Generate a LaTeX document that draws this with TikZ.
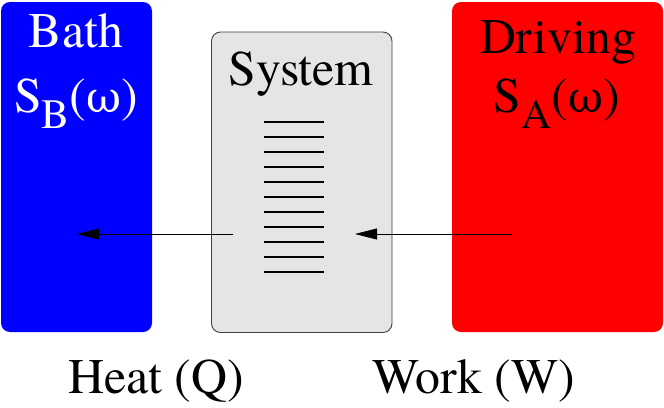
\documentclass[tikz,border=0pt]{standalone}
\usepackage{fontspec}
\IfFontExistsTF{TeX Gyre Termes}{\newfontfamily\tms{TeX Gyre Termes}}{\newfontfamily\tms{Liberation Serif}}
\newfontfamily\grk{DejaVu Serif}
\usetikzlibrary{arrows.meta}
\definecolor{bathblue}{RGB}{0,0,255}
\definecolor{driverred}{RGB}{255,0,0}
\definecolor{sysgray}{RGB}{229,229,229}
\tikzset{
  sysbox/.style={rounded corners=9bp, draw=black!75, line width=0.9bp, fill=sysgray, inner sep=0pt},
  big/.style={font=\tms\fontsize{50}{60}\selectfont, inner sep=0pt, anchor=base},
  level/.style={line width=1.8bp},
  flow/.style={line width=0.8bp, -{Triangle[length=22bp,width=11bp]}}
}
\newcommand{\specS}[1]{S\raisebox{-16bp}{\fontsize{42}{50}\selectfont #1}({\grk\fontsize{43}{50}\selectfont ω})}
\begin{document}
\begin{tikzpicture}[x=1bp,y=-1bp]
\useasboundingbox (0,0) rectangle (664,407);
\fill[bathblue, rounded corners=9bp] (1,2) rectangle (152,332);
\fill[driverred, rounded corners=9bp] (452,2) rectangle (663,332);
\draw[sysbox] (211.5,32) rectangle (392,332.5);
\node[big, text=white] (bathlbl) at (76,47) {Bath};
\node[big, text=white] (bathspec) at (76,112) {\specS{B}};
\node[big] (drivlbl) at (558,53) {Driving};
\node[big] (drivspec) at (557,112) {\specS{A}};
\node[big] (syslbl) at (301,85) {System};
\foreach \k in {0,...,10}{
  \draw[level] (264,121.7+15*\k) -- (324,121.7+15*\k);
}
\coordinate (heatstart) at (233,234);
\coordinate (heatend) at (77,234);
\coordinate (workstart) at (512,234);
\coordinate (workend) at (355,234);
\draw[flow] (heatstart) -- (heatend);
\draw[flow] (workstart) -- (workend);
\node[big] (heat) at (156,393) {Heat (Q)};
\node[big] (work) at (473.5,393) {Work (W)};
\end{tikzpicture}
\end{document}
